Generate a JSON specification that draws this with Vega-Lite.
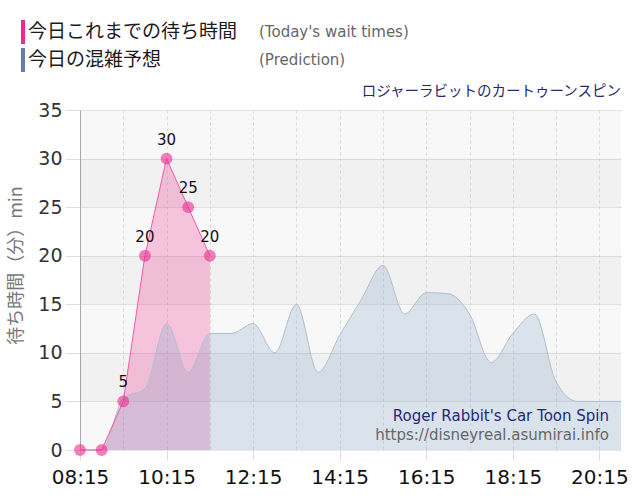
{
  "$schema": "https://vega.github.io/schema/vega-lite/v6.json",
  "width": 541,
  "height": 340,
  "autosize": "none",
  "padding": {"left": 80, "top": 110, "right": 19, "bottom": 50},
  "background": "white",
  "config": {
    "view": {"fill": "#f8f8f8", "stroke": null},
    "font": "DejaVu Sans"
  },
  "title": {
    "text": "ロジャーラビットのカートゥーンスピン",
    "anchor": "end",
    "frame": "group",
    "font": "Noto Sans CJK JP",
    "fontSize": 14.5,
    "fontWeight": "normal",
    "color": "#27286f",
    "offset": -79
  },
  "datasets": {
    "today": [
      {"time": "2024-05-01T08:15:00", "wait": 0, "series": "今日これまでの待ち時間"},
      {"time": "2024-05-01T08:45:00", "wait": 0, "series": "今日これまでの待ち時間"},
      {"time": "2024-05-01T09:15:00", "wait": 5, "series": "今日これまでの待ち時間"},
      {"time": "2024-05-01T09:45:00", "wait": 20, "series": "今日これまでの待ち時間"},
      {"time": "2024-05-01T10:15:00", "wait": 30, "series": "今日これまでの待ち時間"},
      {"time": "2024-05-01T10:45:00", "wait": 25, "series": "今日これまでの待ち時間"},
      {"time": "2024-05-01T11:15:00", "wait": 20, "series": "今日これまでの待ち時間"}
    ],
    "pred": [
      {"time": "2024-05-01T08:15:00", "wait": 0},
      {"time": "2024-05-01T08:45:00", "wait": 0},
      {"time": "2024-05-01T09:15:00", "wait": 5.3},
      {"time": "2024-05-01T09:45:00", "wait": 6.3},
      {"time": "2024-05-01T10:15:00", "wait": 13},
      {"time": "2024-05-01T10:45:00", "wait": 8},
      {"time": "2024-05-01T11:15:00", "wait": 12},
      {"time": "2024-05-01T11:45:00", "wait": 12},
      {"time": "2024-05-01T12:15:00", "wait": 13},
      {"time": "2024-05-01T12:45:00", "wait": 10},
      {"time": "2024-05-01T13:15:00", "wait": 15},
      {"time": "2024-05-01T13:45:00", "wait": 8},
      {"time": "2024-05-01T14:15:00", "wait": 11.8},
      {"time": "2024-05-01T14:45:00", "wait": 15.5},
      {"time": "2024-05-01T15:15:00", "wait": 19},
      {"time": "2024-05-01T15:45:00", "wait": 14},
      {"time": "2024-05-01T16:15:00", "wait": 16.2},
      {"time": "2024-05-01T16:45:00", "wait": 16.1},
      {"time": "2024-05-01T17:15:00", "wait": 14},
      {"time": "2024-05-01T17:45:00", "wait": 9},
      {"time": "2024-05-01T18:15:00", "wait": 12},
      {"time": "2024-05-01T18:45:00", "wait": 14},
      {"time": "2024-05-01T19:15:00", "wait": 7},
      {"time": "2024-05-01T19:45:00", "wait": 5},
      {"time": "2024-05-01T20:15:00", "wait": 5},
      {"time": "2024-05-01T20:45:00", "wait": 5}
    ],
    "bands": [
      {"wait": 5, "top": 10},
      {"wait": 15, "top": 20},
      {"wait": 25, "top": 30}
    ],
    "legend_en": [
      {"en": "(Today's wait times)"},
      {"en": "(Prediction)"}
    ],
    "credit1": [{"t": "Roger Rabbit's Car Toon Spin"}],
    "credit2": [{"t": "https://disneyreal.asumirai.info"}]
  },
  "layer": [
    {
      "data": {"name": "bands"},
      "mark": {"type": "rect", "color": "#000000", "opacity": 0.028},
      "encoding": {
        "y": {
          "field": "wait",
          "type": "quantitative",
          "title": "待ち時間（分）min",
          "scale": {"domain": [0, 35], "nice": false, "zero": true},
          "axis": {
            "values": [0, 5, 10, 15, 20, 25, 30, 35],
            "grid": true,
            "gridDash": [1, 1],
            "gridColor": "#cccccc",
            "domainColor": "#a8a8b2",
            "tickColor": "#dddddd",
            "tickSize": 15,
            "labelFontSize": 19,
            "labelColor": "#333333",
            "labelPadding": 3,
            "titleFont": "Noto Sans CJK JP",
            "titleFontSize": 18,
            "titleFontWeight": "normal",
            "titleColor": "#777777",
            "titleAngle": -90,
            "titleBaseline": "middle",
            "titleAlign": "center",
            "titleX": -64,
            "titleY": 155
          }
        },
        "y2": {"field": "top"}
      }
    },
    {
      "data": {"name": "today"},
      "mark": {"type": "area", "interpolate": "linear", "fillOpacity": 0.26},
      "encoding": {
        "y": {"field": "wait", "type": "quantitative", "title": "待ち時間（分）min"},
        "x": {
          "field": "time",
          "type": "temporal",
          "title": null,
          "scale": {"domain": [
            {"year": 2024, "month": 5, "date": 1, "hours": 8, "minutes": 15},
            {"year": 2024, "month": 5, "date": 1, "hours": 20, "minutes": 45}
          ]},
          "axis": {
            "values": [
              {"year": 2024, "month": 5, "date": 1, "hours": 8, "minutes": 15},
              {"year": 2024, "month": 5, "date": 1, "hours": 8, "minutes": 45},
              {"year": 2024, "month": 5, "date": 1, "hours": 9, "minutes": 15},
              {"year": 2024, "month": 5, "date": 1, "hours": 9, "minutes": 45},
              {"year": 2024, "month": 5, "date": 1, "hours": 10, "minutes": 15},
              {"year": 2024, "month": 5, "date": 1, "hours": 10, "minutes": 45},
              {"year": 2024, "month": 5, "date": 1, "hours": 11, "minutes": 15},
              {"year": 2024, "month": 5, "date": 1, "hours": 11, "minutes": 45},
              {"year": 2024, "month": 5, "date": 1, "hours": 12, "minutes": 15},
              {"year": 2024, "month": 5, "date": 1, "hours": 12, "minutes": 45},
              {"year": 2024, "month": 5, "date": 1, "hours": 13, "minutes": 15},
              {"year": 2024, "month": 5, "date": 1, "hours": 13, "minutes": 45},
              {"year": 2024, "month": 5, "date": 1, "hours": 14, "minutes": 15},
              {"year": 2024, "month": 5, "date": 1, "hours": 14, "minutes": 45},
              {"year": 2024, "month": 5, "date": 1, "hours": 15, "minutes": 15},
              {"year": 2024, "month": 5, "date": 1, "hours": 15, "minutes": 45},
              {"year": 2024, "month": 5, "date": 1, "hours": 16, "minutes": 15},
              {"year": 2024, "month": 5, "date": 1, "hours": 16, "minutes": 45},
              {"year": 2024, "month": 5, "date": 1, "hours": 17, "minutes": 15},
              {"year": 2024, "month": 5, "date": 1, "hours": 17, "minutes": 45},
              {"year": 2024, "month": 5, "date": 1, "hours": 18, "minutes": 15},
              {"year": 2024, "month": 5, "date": 1, "hours": 18, "minutes": 45},
              {"year": 2024, "month": 5, "date": 1, "hours": 19, "minutes": 15},
              {"year": 2024, "month": 5, "date": 1, "hours": 19, "minutes": 45},
              {"year": 2024, "month": 5, "date": 1, "hours": 20, "minutes": 15},
              {"year": 2024, "month": 5, "date": 1, "hours": 20, "minutes": 45}
            ],
            "format": "%H:%M",
            "labelExpr": "(minutes(datum.value) == 15 && hours(datum.value) % 2 == 0) ? datum.label : ''",
            "tickOpacity": {"condition": {"test": "minutes(datum.value) == 15 && hours(datum.value) % 2 == 0", "value": 1}, "value": 0},
            "labelOverlap": false,
            "labelFlush": false,
            "grid": true,
            "gridDash": [3, 3],
            "gridColor": "#dcdcdc",
            "domain": false,
            "tickColor": "#dddddd",
            "tickSize": 10,
            "labelFontSize": 20,
            "labelColor": "#111111",
            "labelPadding": 7
          }
        },
        "color": {
          "field": "series",
          "type": "nominal",
          "scale": {"domain": ["今日これまでの待ち時間", "今日の混雑予想"], "range": ["#ee2a8e", "#6a7ca8"]},
          "legend": {
            "orient": "none",
            "legendX": -59,
            "legendY": -90,
            "title": null,
            "direction": "vertical",
            "symbolType": "M-1,-1H-0.667V1H-1Z",
            "symbolSize": 576,
            "symbolOpacity": 1,
            "symbolFillOpacity": 1,
            "symbolStrokeWidth": 0,
            "labelFont": "Noto Sans CJK JP",
            "labelFontSize": 19,
            "labelColor": "#1a1a1a",
            "labelOffset": -17,
            "labelLimit": 400,
            "rowPadding": 4,
            "padding": 0
          }
        }
      }
    },
    {
      "data": {"name": "pred"},
      "mark": {"type": "area", "interpolate": "monotone", "color": "#80a4c8", "opacity": 0.25},
      "encoding": {
        "x": {"field": "time", "type": "temporal", "title": null},
        "y": {"field": "wait", "type": "quantitative", "title": "待ち時間（分）min"}
      }
    },
    {
      "data": {"name": "pred"},
      "mark": {"type": "line", "interpolate": "monotone", "color": "#b0bfcc", "strokeWidth": 1},
      "encoding": {
        "x": {"field": "time", "type": "temporal", "title": null},
        "y": {"field": "wait", "type": "quantitative", "title": "待ち時間（分）min"}
      }
    },
    {
      "data": {"name": "today"},
      "mark": {"type": "line", "interpolate": "linear", "color": "#f25aa6", "strokeWidth": 1},
      "encoding": {
        "x": {"field": "time", "type": "temporal", "title": null},
        "y": {"field": "wait", "type": "quantitative", "title": "待ち時間（分）min"}
      }
    },
    {
      "data": {"name": "today"},
      "mark": {"type": "circle", "size": 140, "opacity": 0.6, "color": "#ee2a8e"},
      "encoding": {
        "x": {"field": "time", "type": "temporal", "title": null},
        "y": {"field": "wait", "type": "quantitative", "title": "待ち時間（分）min"}
      }
    },
    {
      "data": {"name": "today"},
      "transform": [{"filter": "datum.wait > 0"}],
      "mark": {"type": "text", "baseline": "bottom", "dy": -11, "fontSize": 15, "color": "#111111"},
      "encoding": {
        "x": {"field": "time", "type": "temporal", "title": null},
        "y": {"field": "wait", "type": "quantitative", "title": "待ち時間（分）min"},
        "text": {"field": "wait", "type": "quantitative"}
      }
    },
    {
      "data": {"name": "credit1"},
      "mark": {"type": "text", "align": "right", "baseline": "middle", "dx": -12, "fontSize": 15, "color": "#23297a"},
      "encoding": {
        "x": {"datum": {"year": 2024, "month": 5, "date": 1, "hours": 20, "minutes": 45}, "type": "temporal", "title": null},
        "y": {"datum": 3.5, "type": "quantitative", "title": "待ち時間（分）min"},
        "text": {"field": "t", "type": "nominal"}
      }
    },
    {
      "data": {"name": "credit2"},
      "mark": {"type": "text", "align": "right", "baseline": "middle", "dx": -12, "fontSize": 15, "color": "#666666"},
      "encoding": {
        "x": {"datum": {"year": 2024, "month": 5, "date": 1, "hours": 20, "minutes": 45}, "type": "temporal", "title": null},
        "y": {"datum": 1.55, "type": "quantitative", "title": "待ち時間（分）min"},
        "text": {"field": "t", "type": "nominal"}
      }
    },
    {
      "data": {"name": "legend_en"},
      "mark": {"type": "point", "opacity": 0},
      "encoding": {
        "y": {"datum": 0, "type": "quantitative", "title": "待ち時間（分）min"},
        "shape": {
          "field": "en",
          "type": "nominal",
          "scale": {"domain": ["(Today's wait times)", "(Prediction)"]},
          "legend": {
            "orient": "none",
            "legendX": 172,
            "legendY": -90,
            "title": null,
            "direction": "vertical",
            "symbolType": "M-1,-1H-0.667V1H-1Z",
            "symbolSize": 576,
            "symbolOpacity": 0,
            "symbolStrokeWidth": 0,
            "labelFont": "DejaVu Sans",
            "labelFontSize": 15,
            "labelColor": "#666666",
            "labelOffset": -17,
            "labelLimit": 400,
            "rowPadding": 4,
            "padding": 0
          }
        }
      }
    }
  ]
}
